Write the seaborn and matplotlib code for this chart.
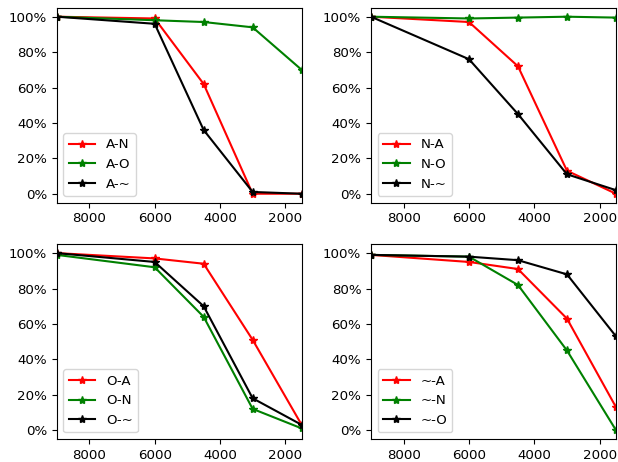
import matplotlib
matplotlib.use("Agg")
import matplotlib.pyplot as plt
import seaborn as sns
import pandas as pd
from matplotlib.ticker import PercentFormatter

plt.rcParams["font.size"] = 9.6

sizes = [9000, 6000, 4500, 3000, 1500]
colors = ["red", "green", "black"]

# panel A
a_n = [1.00, 0.99, 0.62, 0.00, 0.00]
a_o = [1.00, 0.98, 0.97, 0.94, 0.70]
a_t = [1.00, 0.96, 0.36, 0.01, 0.00]
# panel N
n_a = [1.00, 0.97, 0.72, 0.13, 0.00]
n_o = [1.00, 0.99, 0.995, 1.00, 0.995]
n_t = [1.00, 0.76, 0.45, 0.11, 0.02]
# panel O
o_a = [1.00, 0.97, 0.94, 0.51, 0.03]
o_n = [0.99, 0.92, 0.64, 0.12, 0.01]
o_t = [1.00, 0.95, 0.70, 0.18, 0.03]
# panel ~
t_a = [0.99, 0.95, 0.91, 0.63, 0.13]
t_n = [0.99, 0.98, 0.82, 0.45, 0.00]
t_o = [0.99, 0.98, 0.96, 0.88, 0.53]

panels = [
    [("A-N", a_n), ("A-O", a_o), ("A-~", a_t)],
    [("N-A", n_a), ("N-O", n_o), ("N-~", n_t)],
    [("O-A", o_a), ("O-N", o_n), ("O-~", o_t)],
    [("~-A", t_a), ("~-N", t_n), ("~-O", t_o)],
]

fig, axes = plt.subplots(2, 2, figsize=(6.18, 4.62), dpi=100)
fig.subplots_adjust(left=0.0917, right=0.9967, bottom=0.0498, top=0.983,
                    wspace=0.283, hspace=0.214)

for ax, series in zip(axes.flat, panels):
    for (name, vals), c in zip(series, colors):
        df = pd.DataFrame({"x": sizes, "y": vals})
        sns.lineplot(data=df, x="x", y="y", ax=ax, color=c, label=name,
                     marker="*", markersize=6, markeredgecolor=c,
                     markeredgewidth=1.0, linewidth=1.5)
    ax.set_xlim(9000, 1500)
    ax.set_ylim(-0.05, 1.05)
    ax.set_yticks([0, 0.2, 0.4, 0.6, 0.8, 1.0])
    ax.yaxis.set_major_formatter(PercentFormatter(1.0, decimals=0))
    ax.set_xlabel("")
    ax.set_ylabel("")
    ax.legend(loc="lower left")

fig.savefig("out.png", dpi=100)
